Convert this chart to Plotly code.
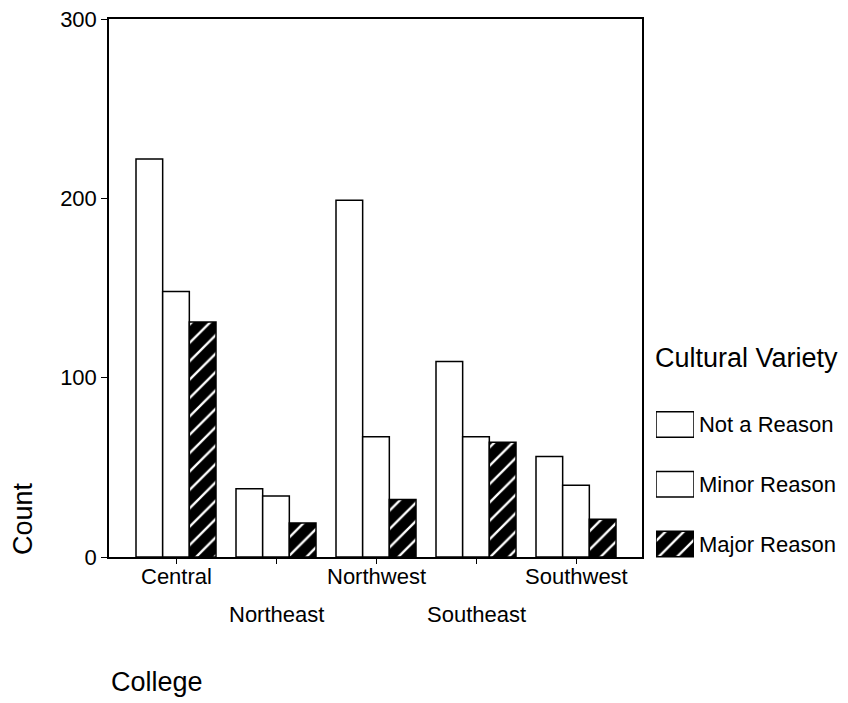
import plotly.graph_objects as go

# Datos
colleges = ["Central", "Northeast", "Northwest", "Southeast", "Southwest"]
not_a_reason = [222, 38, 199, 109, 56]
minor_reason = [148, 34, 67, 67, 40]
major_reason = [131, 19, 32, 64, 21]
reasons = ["Not a Reason", "Minor Reason", "Major Reason"]
y_ticks = [0, 100, 200, 300]

FONT = "Arial, Liberation Sans, sans-serif"
HATCH = dict(shape="/", fgcolor="white", bgcolor="black",
             size=13, solidity=0.18, fillmode="replace")


def estilo(name):
    hatched = name == "Major Reason"
    marker = dict(color="black" if hatched else "white",
                  line=dict(color="black", width=1.5))
    if hatched:
        marker["pattern"] = HATCH
    return marker


fig = go.Figure()

for name, vals in zip(reasons, [not_a_reason, minor_reason, major_reason]):
    fig.add_trace(go.Bar(
        x=list(range(len(colleges))), y=vals, name=name,
        marker=estilo(name), showlegend=False,
    ))

# Leyenda a mano: cajas grandes como en el original (ejes x2/y2)
for name in reasons:
    fig.add_trace(go.Bar(
        x=[1], y=[name], orientation="h",
        xaxis="x2", yaxis="y2", width=0.427, offset=-0.2135,
        marker=estilo(name), showlegend=False, hoverinfo="skip",
    ))

# Etiquetas del eje x alternadas en dos filas
for i, c in enumerate(colleges):
    fig.add_annotation(
        x=i, xref="x", y=0, yref="y domain", yanchor="middle",
        yshift=-20 if i % 2 == 0 else -58,
        text=c, showarrow=False, font=dict(size=22, color="black", family=FONT),
    )

fig.add_annotation(
    x=-0.1164, y=0.1455, xref="paper", yref="paper", text="Count",
    textangle=-90, showarrow=False, xanchor="center", yanchor="middle",
    font=dict(size=27, color="black", family=FONT),
)
fig.add_annotation(
    x=0.0643, y=-0.1348, xref="paper", yref="paper", text="College",
    showarrow=False, xanchor="center", yanchor="middle",
    font=dict(size=27, color="black", family=FONT),
)
fig.add_annotation(
    x=0.7361, y=0.4195, xref="paper", yref="paper", text="Cultural Variety",
    showarrow=False, xanchor="left", yanchor="middle",
    font=dict(size=27, color="black", family=FONT),
)

fig.update_layout(
    width=840, height=695,
    margin=dict(l=101, r=0, t=11, b=100),
    barmode="group", bargap=0.2, bargroupgap=0,
    plot_bgcolor="white", paper_bgcolor="white",
    font=dict(family=FONT, color="black"),
    xaxis=dict(
        domain=[0, 0.72124],
        range=[-0.67, 4.66], tickvals=list(range(len(colleges))),
        showticklabels=False, ticks="outside", ticklen=5, tickcolor="black",
        showline=True, linecolor="black", linewidth=1.5, mirror=True,
        showgrid=False, zeroline=False,
    ),
    yaxis=dict(
        domain=[0.07877, 1],
        range=[0, 300], tickvals=y_ticks, ticks="outside", ticklen=6,
        tickcolor="black", tickfont=dict(size=22), ticklabeloverflow="allow",
        showline=True, linecolor="black", linewidth=1.5, mirror=True,
        showgrid=False, zeroline=False,
    ),
    xaxis2=dict(
        domain=[0.74019, 0.79161], range=[0, 1], anchor="y2",
        visible=False, fixedrange=True,
    ),
    yaxis2=dict(
        domain=[0.05993, 0.35788], range=[2.4017, -0.510], anchor="x2",
        side="right", type="category", categoryorder="array",
        categoryarray=reasons, ticks="", showline=False,
        showgrid=False, zeroline=False, tickfont=dict(size=22),
        ticklabelstandoff=4, fixedrange=True,
    ),
)

fig.write_html("out.html")
